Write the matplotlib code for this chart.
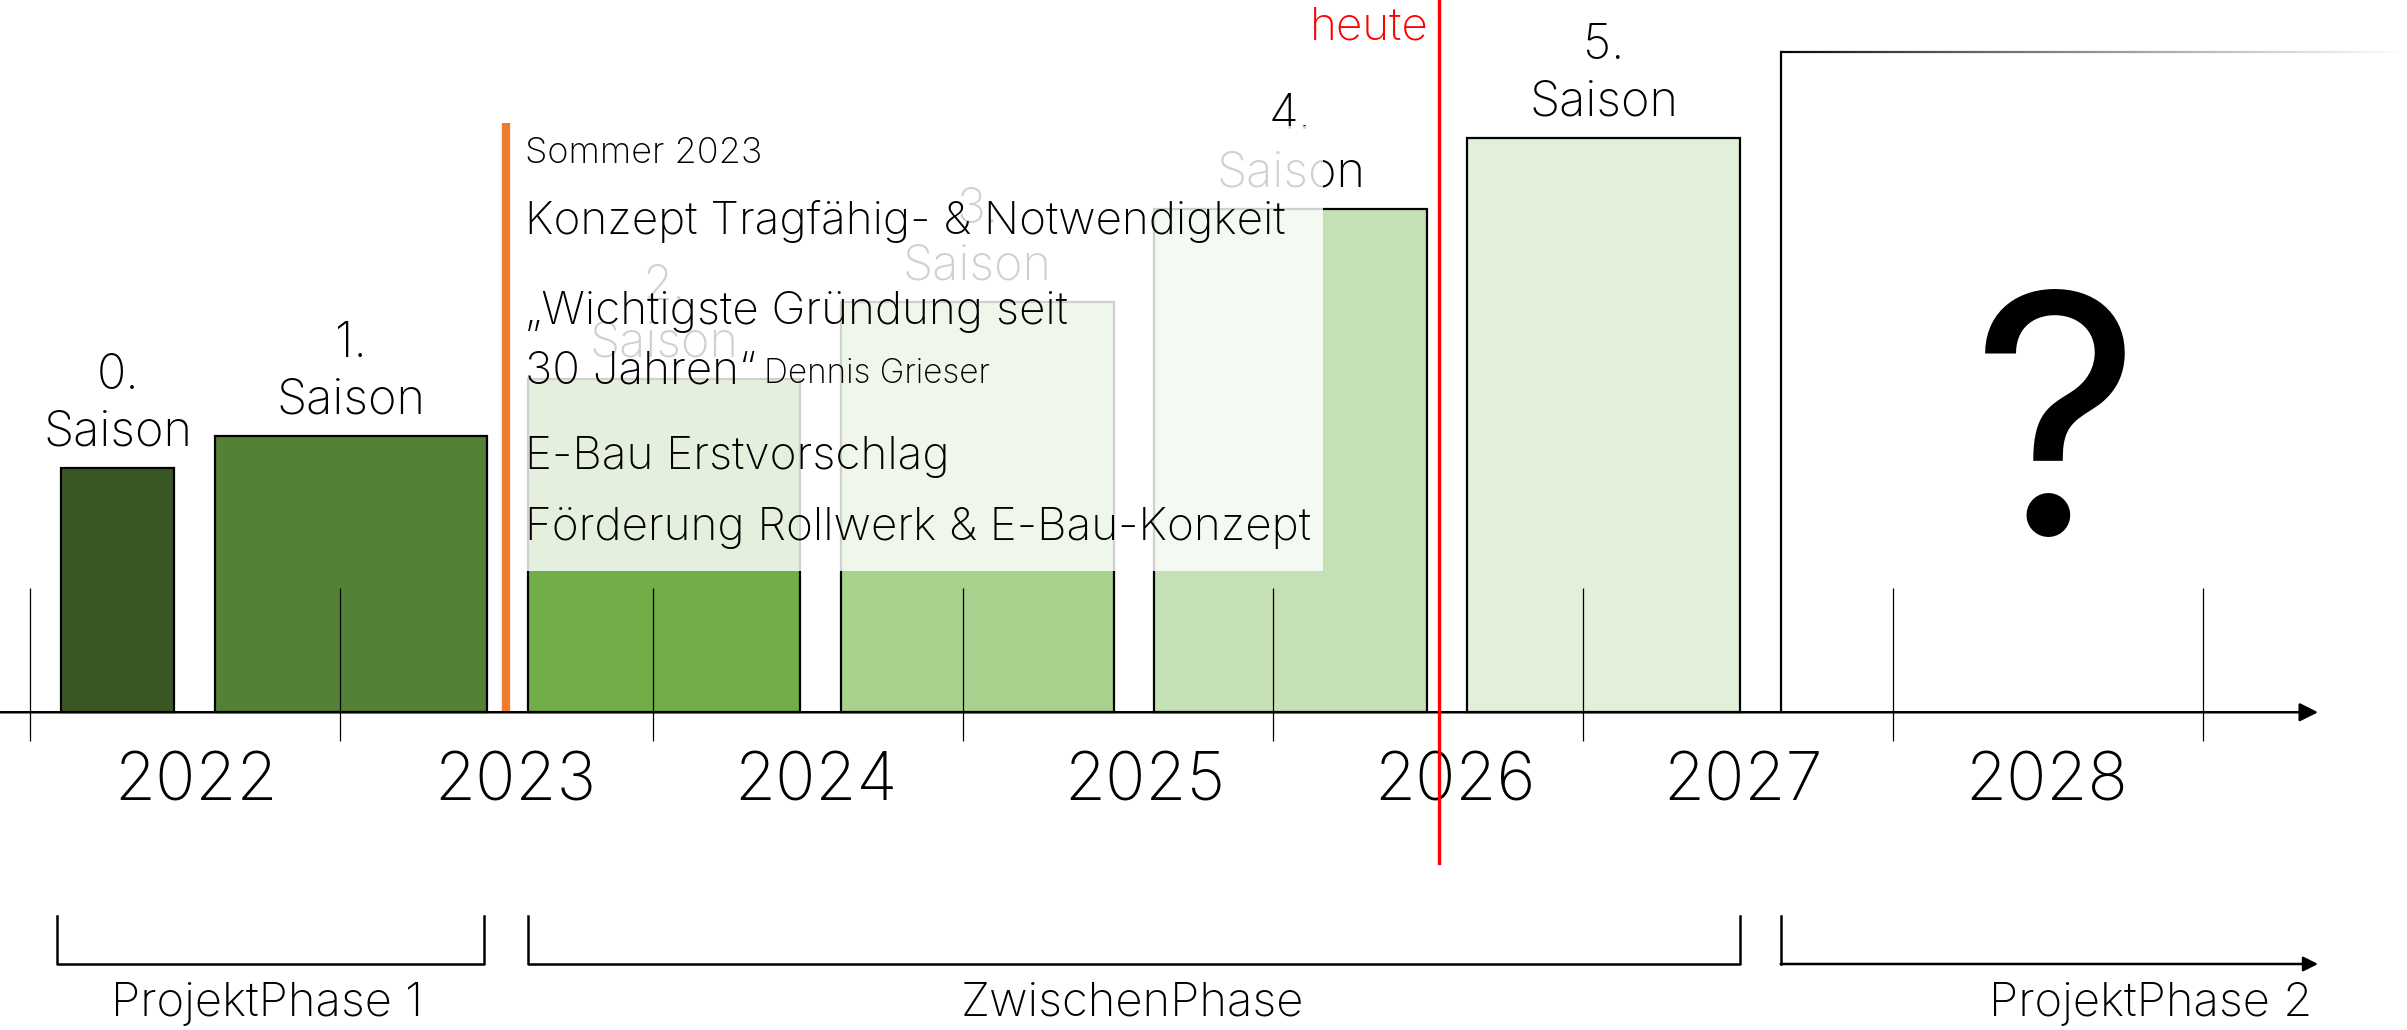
import numpy as np
import matplotlib.pyplot as plt
from matplotlib.patches import Rectangle
from matplotlib.collections import LineCollection

plt.rcParams['font.family'] = ['Inter', 'DejaVu Sans']
plt.rcParams['font.weight'] = 'light'

# seasons (bars), x in "season slots", heights in arbitrary units
season_labels = ["0.\nSaison", "1.\nSaison", "2.\nSaison", "3.\nSaison", "4.\nSaison", "5.\nSaison"]
bar_start = [0.51, 1.0, 2.0, 3.0, 4.0, 5.0]
bar_width = [0.36, 0.87, 0.87, 0.87, 0.87, 0.87]
bar_height = [1.59, 1.80, 2.17, 2.67, 3.28, 3.74]
bar_colors = ["#3a5724", "#538135", "#70ad47", "#a9d18e", "#c5e0b4", "#e2efd9"]

future_start = 6.0
future_height = 4.30

tick_pos = [0.41, 1.40, 2.40, 3.39, 4.38, 5.37, 6.36, 7.35]
years = ["2022", "2023", "2024", "2025", "2026", "2027", "2028"]
year_pos = [0.94, 1.96, 2.92, 3.97, 4.96, 5.88, 6.85]

milestone_x = 1.93   # Sommer 2023
today_x = 4.91       # heute

box_lines = ["Sommer 2023",
             "Konzept Tragfähig- & Notwendigkeit",
             "„Wichtigste Gründung seit",
             "30 Jahren“",
             "E-Bau Erstvorschlag",
             "Förderung Rollwerk & E-Bau-Konzept"]
box_line_y = [3.64, 3.20, 2.61, 2.22, 1.66, 1.20]
quote_author = "Dennis Grieser"

phases = ["ProjektPhase 1", "ZwischenPhase", "ProjektPhase 2"]
phase_start = [0.495, 2.0, 6.0]
phase_end = [1.86, 5.87, 7.716]
phase_label_x = [1.167, 3.93, 7.18]

fig = plt.figure(figsize=(24.07, 10.30), dpi=100)
ax = fig.add_axes([0, 0, 1, 1])
ax.set_xlim(0.314, 8.0)
ax.set_ylim(-2.07, 4.64)
ax.axis('off')

# season bars
bars = ax.bar(bar_start, bar_height, width=bar_width, align='edge', color=bar_colors,
              edgecolor='black', linewidth=1.6, zorder=2)
for b, lab in zip(bars, season_labels):
  ax.annotate(lab, (b.get_x() + b.get_width() / 2, b.get_height()), xytext=(0, 9),
              textcoords='offset points', ha='center', va='bottom', fontsize=35,
              linespacing=1.3, zorder=3)

# future bar with fading top edge
ax.bar([future_start], [future_height], width=2.2, align='edge', color='white', zorder=2)
ax.plot([future_start, future_start], [0, future_height], color='black', lw=1.6, zorder=3)
gx = np.linspace(future_start, 8.0, 200)
segs = [[(gx[i], future_height), (gx[i + 1], future_height)] for i in range(len(gx) - 1)]
shade = np.linspace(0, 1, len(segs)) ** 0.8
ax.add_collection(LineCollection(segs, colors=[(s, s, s) for s in shade], linewidths=1.6, zorder=3))
ax.text(future_start + 0.88, 1.72, "?", ha='center', va='center', fontsize=240,
        fontweight='normal', zorder=3)

# time axis
ax.annotate("", xy=(7.716, 0), xytext=(0.314, 0),
            arrowprops=dict(arrowstyle='-|>', color='black', lw=1.8, mutation_scale=28,
                            shrinkA=0, shrinkB=0), zorder=6)
ax.vlines(tick_pos, -0.19, 0.81, color='black', lw=0.9, zorder=6)
for yp, yr in zip(year_pos, years):
  ax.text(yp, -0.46, yr, ha='center', va='center', fontsize=48)

# milestone line and text box
ax.plot([milestone_x, milestone_x], [0, 3.84], color='#ed7d31', lw=6, solid_capstyle='butt', zorder=5)
ax.add_patch(Rectangle((1.955, 0.92), 4.54 - 1.955, 3.82 - 0.92, facecolor='white',
                       edgecolor='none', alpha=0.82, zorder=4))
sizes = [26, 33, 33, 33, 33, 33]
for txt, y, fs in zip(box_lines, box_line_y, sizes):
  t = ax.text(1.99, y, txt, ha='left', va='center', fontsize=fs, zorder=5)
  if txt.startswith("30"):
    ax.annotate(quote_author, xy=(1, 0.5), xycoords=t, xytext=(6, -2),
                textcoords='offset points', ha='left', va='center', fontsize=24, zorder=5)

# today line
ax.plot([today_x, today_x], [-0.98, 4.64], color='#ff0000', lw=2.4, zorder=7)
ax.text(today_x - 0.035, 4.46, "heute", color='#ff0000', ha='right', va='center', fontsize=33)

# project phases
for i, (x0, x1, name, lx) in enumerate(zip(phase_start, phase_end, phases, phase_label_x)):
  if i < 2:
    ax.plot([x0, x0, x1, x1], [-1.33, -1.64, -1.64, -1.33], color='black', lw=1.8)
  else:
    ax.plot([x0, x0], [-1.33, -1.64], color='black', lw=1.8)
    ax.annotate("", xy=(x1, -1.64), xytext=(x0, -1.64),
                arrowprops=dict(arrowstyle='-|>', color='black', lw=1.8, mutation_scale=22,
                                shrinkA=0, shrinkB=0))
  ax.text(lx, -1.90, name, ha='center', va='center', fontsize=34)

fig.savefig('out.png', dpi=100)
